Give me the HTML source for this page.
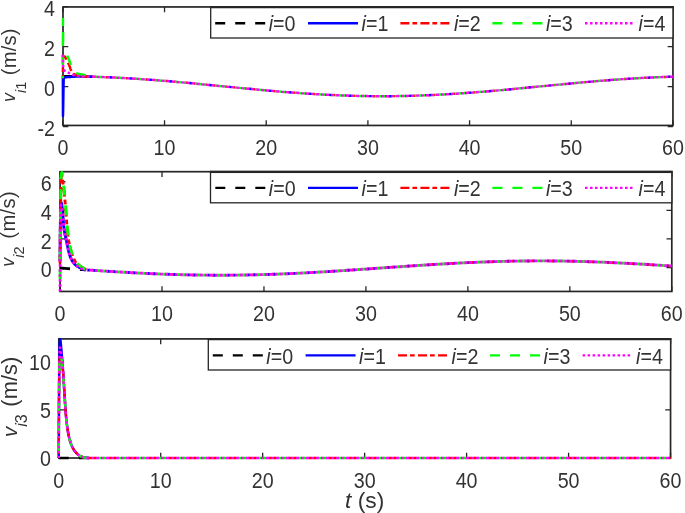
<!DOCTYPE html>
<html><head><meta charset="utf-8"><style>
html,body{margin:0;padding:0;background:#fff;overflow:hidden;}
svg{display:block;will-change:transform;}
text{font-family:"Liberation Sans",sans-serif;fill:#333333;}
</style></head><body>
<svg width="685" height="513" viewBox="0 0 685 513">
<rect x="0" y="0" width="685" height="513" fill="#fff"/>
<rect x="63.00" y="6.95" width="609.95" height="118.50" fill="none" stroke="#262626" stroke-width="1.7"/>
<path d="M62.85 6.95v5.3M62.85 125.45v-5.3M164.53 6.95v5.3M164.53 125.45v-5.3M266.21 6.95v5.3M266.21 125.45v-5.3M367.89 6.95v5.3M367.89 125.45v-5.3M469.57 6.95v5.3M469.57 125.45v-5.3M571.25 6.95v5.3M571.25 125.45v-5.3M672.93 6.95v5.3M672.93 125.45v-5.3M63.00 126.67h5.3M672.95 126.67h-5.3M63.00 86.67h5.3M672.95 86.67h-5.3M63.00 46.67h5.3M672.95 46.67h-5.3M63.00 6.67h5.3M672.95 6.67h-5.3" stroke="#262626" stroke-width="1.3" fill="none"/>
<clipPath id="c0"><rect x="60.00" y="4.95" width="614.95" height="122.50"/></clipPath>
<g clip-path="url(#c0)" fill="none" stroke-width="2.45" stroke-linejoin="round">
<path d="M62.85 76.30L65.39 76.30L67.93 76.31L70.48 76.33L73.02 76.35L75.56 76.38L78.10 76.41L80.64 76.45L83.19 76.50L85.73 76.55L88.27 76.61L90.81 76.67L93.35 76.74" stroke="#000000" stroke-dasharray="10 10"/>
<path d="M62.85 78.29L62.95 116.10L63.02 115.34L63.19 108.28L63.36 97.15L63.53 86.03L63.70 79.02L63.77 78.29L63.88 78.05L64.05 77.76L64.22 77.58L64.38 77.49L64.39 77.49L64.56 77.45L64.73 77.41L64.90 77.38L65.07 77.35L65.24 77.32L65.41 77.29L65.58 77.27L65.76 77.25L65.93 77.23L66.10 77.22L66.27 77.21L66.44 77.19L66.61 77.18L66.78 77.17L66.95 77.16L67.12 77.15L67.29 77.14L67.46 77.13L67.63 77.12L67.81 77.11L67.93 77.10L67.98 77.09L68.15 77.08L68.32 77.07L68.49 77.05L68.66 77.04L68.83 77.03L69.00 77.02L69.17 77.01L69.34 77.00L69.51 76.99L69.69 76.98L69.86 76.97L70.03 76.96L70.20 76.95L70.37 76.94L70.54 76.93L70.71 76.92L70.88 76.92L71.05 76.91L71.22 76.90L71.39 76.89L71.57 76.88L71.74 76.87L71.91 76.86L72.08 76.85L72.25 76.84L72.42 76.83L72.59 76.82L72.76 76.81L72.93 76.80L73.02 76.80L73.10 76.79L73.27 76.78L73.45 76.77L73.62 76.75L73.79 76.74L73.96 76.72L74.13 76.71L74.30 76.69L74.47 76.68L74.64 76.66L74.81 76.64L74.98 76.63L75.15 76.61L75.33 76.60L75.50 76.58L75.67 76.57L75.84 76.56L76.01 76.55L76.18 76.54L76.35 76.53L76.52 76.52L76.69 76.51L76.86 76.50L77.03 76.50L77.09 76.50L77.20 76.50L77.38 76.49L77.55 76.49L77.72 76.49L77.89 76.49L78.06 76.49L78.23 76.48L78.40 76.48L78.57 76.48L78.74 76.48L78.91 76.48L79.08 76.48L79.26 76.48L79.43 76.47L79.60 76.47L79.77 76.47L79.94 76.47L80.11 76.47L80.28 76.47L80.45 76.47L80.62 76.47L80.79 76.47L80.96 76.47L81.14 76.47L81.31 76.47L81.48 76.48L81.65 76.48L81.82 76.48L81.99 76.48L82.16 76.48L82.33 76.48L82.50 76.49L82.67 76.49L82.84 76.49L83.02 76.50L83.19 76.50L85.73 76.55L88.27 76.61L90.81 76.67L93.35 76.74" stroke="#0000ff"/>
<path d="M62.85 78.29L62.97 54.01L63.04 54.02L63.23 54.18L63.41 54.44L63.60 54.72L63.66 54.81L63.79 54.98L63.98 55.24L64.17 55.51L64.35 55.80L64.54 56.09L64.73 56.39L64.92 56.70L65.11 57.02L65.29 57.35L65.48 57.68L65.67 58.02L65.86 58.37L66.05 58.71L66.23 59.07L66.42 59.43L66.61 59.79L66.80 60.15L66.92 60.38L66.99 60.51L67.17 60.89L67.36 61.27L67.55 61.66L67.74 62.06L67.93 62.46L68.11 62.88L68.30 63.30L68.49 63.72L68.68 64.16L68.87 64.59L69.05 65.03L69.24 65.48L69.36 65.75L69.43 65.93L69.62 66.41L69.81 66.93L69.99 67.47L70.18 68.01L70.37 68.55L70.56 69.08L70.75 69.57L70.93 70.02L71.12 70.42L71.29 70.73L71.31 70.76L71.50 71.06L71.69 71.35L71.87 71.63L72.06 71.90L72.25 72.16L72.44 72.41L72.62 72.64L72.81 72.86L73.00 73.08L73.19 73.27L73.38 73.46L73.56 73.63L73.75 73.78L73.94 73.92L74.13 74.05L74.24 74.11L74.32 74.16L74.50 74.26L74.69 74.36L74.88 74.46L75.07 74.56L75.26 74.65L75.44 74.74L75.63 74.83L75.82 74.91L76.01 75.00L76.20 75.07L76.38 75.15L76.57 75.22L76.76 75.29L76.95 75.36L77.14 75.42L77.32 75.48L77.51 75.54L77.70 75.59L77.89 75.64L78.08 75.69L78.26 75.74L78.45 75.78L78.64 75.82L78.83 75.85L79.02 75.89L79.12 75.90L79.20 75.92L79.39 75.94L79.58 75.97L79.77 76.00L79.96 76.03L80.14 76.06L80.33 76.09L80.52 76.11L80.71 76.14L80.90 76.17L81.08 76.19L81.27 76.22L81.46 76.24L81.65 76.26L81.84 76.29L82.02 76.31L82.21 76.33L82.40 76.35L82.59 76.37L82.78 76.39L82.96 76.41L83.15 76.42L83.34 76.44L83.53 76.45L83.72 76.47L83.90 76.48L84.09 76.49L84.28 76.50L84.47 76.51L84.66 76.52L84.84 76.53L85.03 76.54L85.22 76.54L85.73 76.55L88.27 76.61L90.81 76.67L93.35 76.74" stroke="#ff0000" stroke-dasharray="9 3 4.7 3.3" stroke-dashoffset="5.66"/>
<path d="M62.85 78.29L62.97 18.99L63.11 39.66L63.16 44.46L63.36 46.51" stroke="#00ff00" stroke-dasharray="10 10" stroke-dashoffset="7.75"/>
<path d="M63.36 46.51L63.62 47.74L63.87 48.44L63.88 48.47L64.13 49.16L64.39 49.72L64.64 50.17L64.90 50.59L65.16 51.01L65.41 51.48L65.45 51.56L65.67 52.03L65.93 52.58L66.18 53.15L66.44 53.72L66.70 54.31L66.95 54.90L67.21 55.50L67.46 56.11L67.72 56.71L67.98 57.33L68.23 57.94L68.49 58.56L68.75 59.17L69.00 59.79L69.26 60.40L69.36 60.64L69.51 61.02L69.77 61.69L70.03 62.39L70.28 63.11L70.54 63.86L70.80 64.62L71.05 65.39L71.31 66.15L71.57 66.89L71.82 67.61L72.08 68.30L72.33 68.95L72.59 69.55L72.85 70.09L73.10 70.57L73.36 70.97L73.62 71.29L73.76 71.42L73.87 71.52L74.13 71.73L74.39 71.92L74.64 72.11L74.90 72.28L75.15 72.45L75.41 72.60L75.67 72.74L75.92 72.88L76.18 73.00L76.44 73.12L76.69 73.23L76.95 73.33L77.20 73.43L77.46 73.52L77.72 73.60L77.97 73.68L78.10 73.71L78.23 73.75L78.49 73.82L78.74 73.88L79.00 73.94L79.26 74.00L79.51 74.06L79.77 74.11L80.02 74.16L80.28 74.21L80.54 74.26L80.79 74.30L81.05 74.35L81.31 74.39L81.56 74.43L81.82 74.47L82.08 74.52L82.33 74.56L82.59 74.60L82.84 74.64L83.10 74.69L83.36 74.73L83.61 74.78L83.87 74.83L83.97 74.85L84.13 74.88L84.38 74.93L84.64 74.98L84.89 75.03L85.15 75.08L85.41 75.13L85.66 75.18L85.92 75.23L86.18 75.28L86.43 75.34L86.69 75.39L86.95 75.44L87.20 75.49L87.46 75.54L87.71 75.59L87.97 75.64L88.23 75.70L88.48 75.75L88.74 75.80L89.00 75.85L89.25 75.90L89.51 75.96L89.77 76.01L90.02 76.06L90.28 76.11L90.53 76.16L90.79 76.22L91.05 76.27L91.30 76.32L91.56 76.37L91.82 76.43L92.07 76.48L92.33 76.53L92.58 76.59L92.84 76.64L93.10 76.69L93.35 76.74" stroke="#00ff00" stroke-dasharray="10 10" stroke-dashoffset="10.03"/>
<path d="M62.85 54.81L63.02 61.39L63.05 62.37L63.19 66.39L63.36 69.14L63.36 69.14L63.53 69.44L63.70 69.71L63.88 69.95L64.05 70.17L64.22 70.36L64.39 70.53L64.56 70.67L64.73 70.80L64.90 70.91L65.07 71.01L65.24 71.09L65.41 71.17L65.58 71.24L65.76 71.30L65.93 71.35L66.10 71.41L66.27 71.46L66.44 71.52L66.61 71.58L66.78 71.65L66.95 71.72L67.12 71.81L67.29 71.90L67.32 71.92L67.46 72.01L67.63 72.12L67.81 72.23L67.98 72.34L68.15 72.45L68.32 72.56L68.49 72.67L68.66 72.78L68.83 72.90L69.00 73.01L69.17 73.12L69.34 73.22L69.51 73.33L69.69 73.44L69.86 73.54L70.03 73.64L70.20 73.74L70.37 73.84L70.54 73.94L70.71 74.03L70.88 74.12L71.05 74.20L71.22 74.29L71.39 74.36L71.57 74.44L71.74 74.51L71.91 74.57L72.08 74.63L72.25 74.69L72.31 74.71L72.42 74.74L72.59 74.79L72.76 74.84L72.93 74.89L73.10 74.93L73.27 74.98L73.45 75.02L73.62 75.07L73.79 75.11L73.96 75.15L74.13 75.19L74.30 75.23L74.47 75.26L74.64 75.30L74.81 75.34L74.98 75.37L75.15 75.41L75.33 75.44L75.50 75.47L75.67 75.51L75.84 75.54L76.01 75.57L76.18 75.60L76.35 75.63L76.52 75.66L76.69 75.68L76.86 75.71L77.03 75.74L77.20 75.77L77.38 75.79L77.55 75.82L77.72 75.85L77.89 75.87L78.06 75.90L78.10 75.90L78.23 75.92L78.40 75.95L78.57 75.97L78.74 75.99L78.91 76.02L79.08 76.04L79.26 76.07L79.43 76.09L79.60 76.11L79.77 76.13L79.94 76.16L80.11 76.18L80.28 76.20L80.45 76.22L80.62 76.24L80.79 76.26L80.96 76.28L81.14 76.30L81.31 76.32L81.48 76.34L81.65 76.36L81.82 76.38L81.99 76.39L82.16 76.41L82.33 76.43L82.50 76.44L82.67 76.46L82.84 76.47L83.02 76.49L83.19 76.50L85.73 76.55L88.27 76.61L90.81 76.67L93.35 76.74" stroke="#ff00ff" stroke-dasharray="2.5 2.5" stroke-dashoffset="0.07"/>
<path d="M109.38 77.32L109.62 77.33L112.18 77.45M129.36 78.35L129.45 78.36L132.15 78.52M149.31 79.69L149.79 79.72L152.10 79.89M169.25 81.27L169.61 81.30L172.04 81.51M189.17 83.04L189.44 83.07L191.96 83.30M209.08 84.93L209.27 84.95L211.87 85.20M228.99 86.88L229.10 86.89L231.77 87.15M248.89 88.80L248.92 88.80L251.68 89.06M268.81 90.62L269.26 90.66L271.60 90.86M288.74 92.28L289.09 92.30L291.53 92.49M308.69 93.71L308.92 93.72L311.48 93.88M328.66 94.85L328.74 94.85L331.45 94.98M348.64 95.66L349.08 95.67L351.44 95.75M368.64 96.11L368.91 96.11L371.44 96.14M388.63 96.18L388.73 96.18L391.43 96.16M408.63 95.87L409.07 95.86L411.43 95.79M428.62 95.18L428.90 95.17L431.42 95.06M448.59 94.16L448.73 94.15L451.39 93.99M468.55 92.83L468.55 92.83L471.34 92.62M488.49 91.25L488.89 91.21L491.28 91.01M508.41 89.48L508.72 89.45L511.20 89.22M528.32 87.59L528.54 87.56L531.11 87.31M548.22 85.64L548.37 85.63L551.01 85.37M568.13 83.72L568.20 83.72L570.92 83.46M588.05 81.90L588.54 81.85L590.84 81.65M607.98 80.24L608.36 80.21L610.77 80.02M627.93 78.81L628.19 78.79L630.72 78.63M647.89 77.66L648.02 77.66L650.69 77.53M667.88 76.85L668.35 76.83L670.68 76.76" stroke="#0000ff"/>
<path d="M94.29 76.77L94.37 76.77L95.93 76.82M105.53 77.16L105.56 77.16L107.19 77.23M109.28 77.32L109.62 77.33L109.78 77.34M114.28 77.55L114.71 77.57L115.92 77.62M125.50 78.13L125.89 78.15L127.16 78.22M129.26 78.35L129.45 78.36L129.76 78.38M134.25 78.65L134.53 78.67L135.88 78.76M145.46 79.41L145.72 79.43L147.12 79.53M149.21 79.68L149.28 79.68L149.71 79.72M154.20 80.05L154.36 80.06L155.83 80.18M165.40 80.95L165.55 80.96L167.06 81.08M169.15 81.26L169.61 81.30L169.65 81.30M174.13 81.69L174.19 81.69L175.77 81.83M185.33 82.69L185.37 82.69L186.98 82.84M189.07 83.03L189.44 83.07L189.57 83.08M194.05 83.50L194.53 83.54L195.68 83.65M205.24 84.56L205.71 84.61L206.89 84.72M208.98 84.92L209.27 84.95L209.48 84.97M213.96 85.41L214.35 85.45L215.59 85.57M225.14 86.50L225.54 86.54L226.80 86.66M228.89 86.87L229.10 86.89L229.38 86.92M233.86 87.35L234.18 87.38L235.50 87.51M245.05 88.43L245.37 88.46L246.70 88.59M248.79 88.79L248.92 88.80L249.29 88.84M253.77 89.26L254.01 89.28L255.41 89.41M264.97 90.28L265.19 90.30L266.62 90.43M268.71 90.61L268.75 90.62L269.21 90.66M273.69 91.04L273.84 91.06L275.33 91.18M284.89 91.97L285.02 91.98L286.55 92.11M288.64 92.27L289.09 92.30L289.14 92.31M293.63 92.65L293.66 92.65L295.26 92.77M304.84 93.45L304.85 93.45L306.50 93.56M308.59 93.70L308.92 93.72L309.09 93.73M313.58 94.01L314.00 94.04L315.22 94.11M324.80 94.65L325.18 94.67L326.46 94.74M328.56 94.84L328.74 94.85L329.06 94.87M333.55 95.08L333.83 95.09L335.19 95.15M344.78 95.53L345.01 95.54L346.44 95.59M348.54 95.66L348.57 95.66L349.04 95.67M353.54 95.80L353.65 95.81L355.18 95.85M364.78 96.05L364.84 96.05L366.44 96.08M368.54 96.11L368.91 96.11L369.04 96.12M373.54 96.16L373.99 96.17L375.18 96.18M384.77 96.20L385.18 96.20L386.43 96.19M388.53 96.18L388.73 96.18L389.03 96.18M393.53 96.14L393.82 96.14L395.17 96.12M404.77 95.96L405.00 95.95L406.43 95.92M408.53 95.87L408.56 95.87L409.03 95.86M413.53 95.73L413.65 95.73L415.17 95.68M424.76 95.34L424.83 95.34L426.42 95.28M428.52 95.19L428.90 95.17L429.02 95.17M433.52 94.96L433.98 94.94L435.15 94.89M444.74 94.38L445.17 94.36L446.40 94.29M448.49 94.16L448.73 94.15L448.99 94.13M453.48 93.86L453.81 93.84L455.12 93.75M464.70 93.11L464.99 93.09L466.36 92.99M468.45 92.84L468.55 92.83L468.95 92.80M473.44 92.46L473.64 92.45L475.07 92.34M484.64 91.57L484.82 91.56L486.29 91.43M488.39 91.26L488.89 91.21M493.37 90.83L493.46 90.82L495.00 90.69M504.56 89.83L504.65 89.82L506.22 89.68M508.31 89.49L508.72 89.45L508.81 89.44M513.29 89.02L513.29 89.02L514.92 88.87M524.48 87.96L524.48 87.96L526.13 87.80M528.22 87.60L528.54 87.56L528.72 87.55M533.20 87.11L533.63 87.07L534.83 86.95M544.38 86.02L544.81 85.98L546.03 85.86M548.12 85.65L548.37 85.63L548.62 85.60M553.10 85.17L553.46 85.13L554.73 85.01M564.29 84.09L564.64 84.05L565.94 83.93M568.03 83.73L568.20 83.72L568.53 83.68M573.01 83.26L573.28 83.24L574.64 83.11M584.20 82.24L584.47 82.21L585.86 82.09M587.95 81.91L588.03 81.90L588.45 81.86M592.93 81.47L593.11 81.46L594.56 81.33M604.13 80.54L604.30 80.53L605.79 80.41M607.88 80.25L608.36 80.21L608.38 80.21M612.86 79.86L612.94 79.86L614.50 79.74M624.08 79.06L624.12 79.06L625.73 78.95M627.83 78.81L628.19 78.79L628.33 78.78M632.82 78.50L633.27 78.47L634.45 78.40M644.04 77.86L644.46 77.84L645.70 77.77M647.79 77.67L648.02 77.66L648.29 77.64M652.79 77.43L653.10 77.42L654.43 77.36M664.02 76.98L664.29 76.97L665.68 76.92M667.78 76.85L667.85 76.85L668.28 76.83" stroke="#ff0000"/>
<path d="M95.53 76.81L95.90 76.82L97.19 76.86M99.29 76.93L99.45 76.94L102.19 77.04M104.29 77.11L104.54 77.12L105.93 77.18M115.52 77.61L115.72 77.62L117.17 77.69M119.27 77.79L119.28 77.79L122.17 77.95M124.27 78.06L124.37 78.07L125.90 78.15M135.48 78.73L135.55 78.74L137.14 78.84M139.24 78.98L139.62 79.00L142.13 79.17M144.23 79.32L144.70 79.35L145.86 79.44M155.43 80.15L155.89 80.18L157.09 80.28M159.18 80.44L159.45 80.46L162.07 80.67M164.17 80.84L164.53 80.87L165.80 80.98M175.37 81.80L175.71 81.83L177.02 81.94M179.11 82.13L179.27 82.14L182.00 82.38M184.09 82.57L184.36 82.60L185.73 82.72M195.28 83.61L195.54 83.64L196.94 83.77M199.03 83.97L199.10 83.97L201.91 84.24M204.00 84.44L204.19 84.46L205.64 84.60M215.19 85.53L215.37 85.55L216.84 85.69M218.93 85.89L219.44 85.94L221.82 86.18M223.91 86.38L224.01 86.39L225.54 86.54M235.10 87.47L235.20 87.48L236.75 87.63M238.84 87.84L239.26 87.88L241.73 88.11M243.82 88.31L243.84 88.32L245.45 88.47M255.01 89.37L255.03 89.37L256.66 89.52M258.75 89.72L259.09 89.75L261.64 89.98M263.73 90.17L264.18 90.21L265.36 90.32M274.93 91.15L275.36 91.19L276.58 91.29M278.67 91.47L278.92 91.49L281.56 91.70M283.66 91.87L284.00 91.90L285.29 92.01M294.86 92.74L295.19 92.77L296.52 92.87M298.61 93.02L298.75 93.03L301.51 93.22M303.60 93.37L303.83 93.38L305.24 93.48M314.82 94.09L315.02 94.10L316.48 94.19M318.57 94.31L318.58 94.31L321.47 94.47M323.56 94.59L323.66 94.59L325.20 94.67M334.79 95.13L334.84 95.14L336.45 95.21M338.55 95.29L338.91 95.31L341.45 95.41M343.54 95.49L344.00 95.50L345.18 95.54M354.78 95.84L355.18 95.85L356.44 95.88M358.54 95.93L358.74 95.93L361.44 95.99M363.54 96.03L363.82 96.04L365.18 96.06M374.78 96.17L375.01 96.17L376.43 96.18M378.53 96.19L378.57 96.19L381.43 96.20M383.53 96.20L383.65 96.20L385.17 96.20M394.77 96.13L394.84 96.12L396.43 96.10M398.53 96.07L398.90 96.07L401.43 96.02M403.53 95.98L403.99 95.97L405.17 95.95M414.77 95.70L415.17 95.68L416.43 95.64M418.53 95.57L418.73 95.57L421.43 95.47M423.52 95.39L423.81 95.38L425.16 95.33M434.75 94.90L435.00 94.89L436.41 94.82M438.51 94.72L438.56 94.71L441.41 94.57M443.50 94.45L443.64 94.44L445.14 94.36M454.72 93.78L454.83 93.77L456.38 93.67M458.47 93.54L458.89 93.51L461.37 93.34M463.46 93.19L463.47 93.19L465.10 93.08M474.67 92.37L475.16 92.33L476.33 92.24M478.42 92.07L478.72 92.05L481.31 91.84M483.40 91.67L483.81 91.64L485.04 91.54M494.60 90.72L494.99 90.69L496.26 90.58M498.35 90.39L498.55 90.37L501.24 90.13M503.33 89.94L503.63 89.92L504.96 89.80M514.52 88.91L514.82 88.88L516.17 88.75M518.26 88.55L518.38 88.54L521.15 88.28M523.24 88.08L523.46 88.05L524.87 87.92M534.43 86.99L534.65 86.97L536.08 86.83M538.17 86.63L538.20 86.62L541.06 86.34M543.15 86.14L543.29 86.12L544.78 85.98M554.33 85.05L554.47 85.03L555.99 84.89M558.08 84.68L558.54 84.64L560.96 84.41M563.05 84.20L563.12 84.20L564.69 84.05M574.24 83.15L574.30 83.14L575.90 82.99M577.99 82.80L578.37 82.77L580.88 82.54M582.97 82.35L583.45 82.31L584.60 82.20M594.16 81.37L594.64 81.33L595.82 81.23M597.91 81.05L598.20 81.03L600.80 80.81M602.89 80.64L603.28 80.61L604.53 80.51M614.10 79.77L614.46 79.74L615.76 79.65M617.85 79.50L618.02 79.49L620.74 79.29M622.84 79.15L623.11 79.13L624.47 79.04M634.06 78.42L634.29 78.41L635.71 78.32M637.81 78.20L637.85 78.20L640.70 78.04M642.80 77.92L642.93 77.92L644.44 77.84M654.03 77.37L654.12 77.37L655.69 77.30M657.78 77.21L658.19 77.20L660.68 77.10M662.78 77.02L663.27 77.00L664.42 76.96" stroke="#00ff00"/>
<path d="M93.35 76.74L93.86 76.76L94.69 76.78M96.79 76.85L96.91 76.85L99.69 76.95M101.79 77.02L102.00 77.03L104.69 77.13M106.79 77.21L107.08 77.23L109.68 77.34M111.78 77.43L112.16 77.45L114.68 77.56M116.78 77.67L117.25 77.69L119.67 77.81M121.77 77.92L121.82 77.93L124.66 78.08M126.76 78.20L126.91 78.21L129.66 78.37M131.75 78.50L131.99 78.51L134.65 78.68M136.74 78.81L137.08 78.84L139.64 79.00M141.73 79.15L142.16 79.18L144.62 79.35M146.72 79.50L146.74 79.50L149.61 79.71M151.71 79.86L151.82 79.87L154.60 80.08M156.69 80.25L156.90 80.26L159.58 80.47M161.68 80.64L161.99 80.67L164.57 80.88M166.66 81.05L167.07 81.08L169.55 81.29M171.64 81.47L171.65 81.47L174.53 81.72M176.62 81.91L176.73 81.91L179.51 82.16M181.60 82.35L181.82 82.37L184.49 82.61M186.58 82.80L186.90 82.83L189.47 83.07M191.56 83.26L191.98 83.30L194.45 83.53M196.54 83.73L196.56 83.73L199.43 84.00M201.52 84.20L201.64 84.22L204.40 84.48M206.49 84.68L206.73 84.71L209.38 84.96M211.47 85.17L211.81 85.20L214.36 85.45M216.45 85.65L216.90 85.70L219.33 85.93M221.42 86.14L221.47 86.14L224.31 86.42M226.40 86.62L226.55 86.64L229.28 86.91M231.37 87.11L231.64 87.14L234.26 87.39M236.35 87.59L236.72 87.63L239.24 87.87M241.33 88.08L241.81 88.12L244.21 88.35M246.31 88.55L246.38 88.56L249.19 88.83M251.28 89.02L251.47 89.04L254.17 89.29M256.26 89.49L256.55 89.51L259.15 89.75M261.24 89.94L261.63 89.98L264.13 90.20M266.22 90.39L266.72 90.44L269.11 90.65M271.20 90.83L271.29 90.84L274.09 91.08M276.18 91.26L276.38 91.27L279.07 91.50M281.17 91.67L281.46 91.70L284.06 91.91M286.15 92.07L286.55 92.11L289.04 92.30M291.13 92.46L291.63 92.50L294.03 92.68M296.12 92.84L296.21 92.84L299.01 93.05M301.11 93.19L301.29 93.21L304.00 93.39M306.10 93.53L306.37 93.55L308.99 93.72M311.09 93.86L311.46 93.88L313.98 94.04M316.08 94.16L316.54 94.19L318.97 94.33M321.07 94.45L321.12 94.45L323.96 94.61M326.06 94.72L326.20 94.72L328.96 94.86M331.05 94.96L331.29 94.97L333.95 95.10M336.05 95.19L336.37 95.20L338.95 95.31M341.05 95.39L341.45 95.41L343.94 95.50M346.04 95.57L346.54 95.59L348.94 95.67M351.04 95.73L351.11 95.74L353.94 95.82M356.04 95.87L356.20 95.87L358.94 95.94M361.04 95.98L361.28 95.99L363.94 96.04M366.04 96.07L366.36 96.08L368.94 96.11M371.04 96.14L371.45 96.14L373.94 96.17M376.03 96.18L376.53 96.18L378.93 96.19M381.03 96.20L381.11 96.20L383.93 96.20M386.03 96.19L386.19 96.19L388.93 96.18M391.03 96.16L391.28 96.16L393.93 96.13M396.03 96.11L396.36 96.10L398.93 96.07M401.03 96.03L401.44 96.02L403.93 95.98M406.03 95.93L406.53 95.92L408.93 95.86M411.03 95.81L411.10 95.80L413.93 95.72M416.03 95.66L416.19 95.65L418.93 95.56M421.03 95.49L421.27 95.48L423.92 95.38M426.02 95.29L426.36 95.28L428.92 95.17M431.02 95.08L431.44 95.06L433.91 94.94M436.01 94.84L436.02 94.84L438.91 94.70M441.01 94.59L441.10 94.58L443.90 94.43M446.00 94.31L446.18 94.30L448.89 94.14M450.99 94.01L451.27 94.00L453.88 93.83M455.98 93.70L456.35 93.68L458.87 93.51M460.97 93.37L461.44 93.33L463.86 93.17M465.96 93.02L466.01 93.01L468.85 92.81M470.94 92.65L471.10 92.64L473.83 92.43M475.93 92.27L476.18 92.25L478.82 92.04M480.91 91.88L481.26 91.85L483.80 91.64M485.90 91.47L486.35 91.43L488.79 91.22M490.88 91.04L490.92 91.04L493.77 90.80M495.86 90.61L496.01 90.60L498.75 90.36M500.84 90.17L501.09 90.15L503.73 89.91M505.82 89.72L506.17 89.68L508.71 89.45M510.80 89.26L511.26 89.21L513.69 88.99M515.78 88.79L515.83 88.78L518.66 88.51M520.75 88.31L520.92 88.30L523.64 88.04M525.73 87.84L526.00 87.81L528.62 87.56M530.71 87.35L531.09 87.32L533.59 87.07M535.68 86.87L536.17 86.82L538.57 86.59M540.66 86.38L540.75 86.37L543.55 86.10M545.64 85.89L545.83 85.88L548.52 85.61M550.61 85.41L550.91 85.38L553.50 85.13M555.59 84.92L556.00 84.89L558.48 84.65M560.57 84.44L560.57 84.44L563.45 84.17M565.54 83.97L565.66 83.96L568.43 83.69M570.52 83.50L570.74 83.48L573.41 83.23M575.50 83.03L575.83 83.00L578.39 82.77M580.48 82.57L580.91 82.54L583.37 82.31M585.46 82.13L585.49 82.12L588.35 81.87M590.44 81.69L590.57 81.68L593.33 81.44M595.42 81.26L595.65 81.24L598.31 81.02M600.40 80.84L600.74 80.82L603.29 80.61M605.39 80.44L605.82 80.41L608.28 80.21M610.37 80.05L610.40 80.05L613.26 79.83M615.36 79.68L615.48 79.67L618.25 79.47M620.34 79.32L620.56 79.30L623.24 79.12M625.33 78.98L625.65 78.96L628.23 78.79M630.32 78.65L630.73 78.63L633.22 78.47M635.31 78.35L635.82 78.32L638.21 78.18M640.30 78.06L640.39 78.06L643.20 77.90M645.30 77.79L645.48 77.78L648.19 77.65M650.29 77.55L650.56 77.53L653.19 77.41M655.29 77.32L655.64 77.30L658.18 77.20M660.28 77.12L660.73 77.10L663.18 77.01M665.28 76.93L665.30 76.93L668.18 76.84M670.28 76.77L670.39 76.77L672.93 76.70" stroke="#ff00ff"/>
</g>
<text transform="translate(62.85 154.80) scale(1 1.100)" font-size="19.70" text-anchor="middle">0</text>
<text transform="translate(164.53 154.80) scale(1 1.100)" font-size="19.70" text-anchor="middle">10</text>
<text transform="translate(266.21 154.80) scale(1 1.100)" font-size="19.70" text-anchor="middle">20</text>
<text transform="translate(367.89 154.80) scale(1 1.100)" font-size="19.70" text-anchor="middle">30</text>
<text transform="translate(469.57 154.80) scale(1 1.100)" font-size="19.70" text-anchor="middle">40</text>
<text transform="translate(571.25 154.80) scale(1 1.100)" font-size="19.70" text-anchor="middle">50</text>
<text transform="translate(672.93 154.80) scale(1 1.100)" font-size="19.70" text-anchor="middle">60</text>
<text transform="translate(54.90 135.52) scale(1 1.100)" font-size="19.70" text-anchor="end">-2</text>
<text transform="translate(54.90 95.52) scale(1 1.100)" font-size="19.70" text-anchor="end">0</text>
<text transform="translate(54.90 55.52) scale(1 1.100)" font-size="19.70" text-anchor="end">2</text>
<text transform="translate(54.90 15.52) scale(1 1.100)" font-size="19.70" text-anchor="end">4</text>
<text transform="translate(16.00 102.00) rotate(-90)" font-size="20.20"><tspan font-style="italic" font-size="18.00" dy="-0.70">v</tspan><tspan font-size="14.50" dy="10.30"><tspan font-style="italic">i</tspan>1</tspan><tspan dy="-9.60" dx="0.60" letter-spacing="0.20"> (m/s)</tspan></text>
<rect x="210.70" y="7.60" width="462.25" height="30.40" fill="#fff" stroke="#262626" stroke-width="1.3"/>
<path d="M215.20 23.30h50" stroke="#000000" stroke-width="2.40" stroke-dasharray="10 10" fill="none"/>
<text transform="translate(268.70 31.45) scale(1 1.100)" font-size="19.70"><tspan font-style="italic">i</tspan>=0</text>
<path d="M308.00 23.30h50" stroke="#0000ff" stroke-width="2.40" fill="none"/>
<text transform="translate(361.50 31.45) scale(1 1.100)" font-size="19.70"><tspan font-style="italic">i</tspan>=1</text>
<path d="M400.40 23.30h50" stroke="#ff0000" stroke-width="2.40" stroke-dasharray="9 3 4.7 3.3" fill="none"/>
<text transform="translate(453.90 31.45) scale(1 1.100)" font-size="19.70"><tspan font-style="italic">i</tspan>=2</text>
<path d="M492.40 23.30h50" stroke="#00ff00" stroke-width="2.40" stroke-dasharray="10 10" fill="none"/>
<text transform="translate(545.90 31.45) scale(1 1.100)" font-size="19.70"><tspan font-style="italic">i</tspan>=3</text>
<path d="M585.00 23.30h50" stroke="#ff00ff" stroke-width="2.40" stroke-dasharray="2.5 2.5" fill="none"/>
<text transform="translate(638.50 31.45) scale(1 1.100)" font-size="19.70"><tspan font-style="italic">i</tspan>=4</text>
<path d="M210.05 6.95H673.80" stroke="#262626" stroke-width="1.7"/>
<rect x="60.10" y="171.70" width="611.70" height="119.75" fill="none" stroke="#262626" stroke-width="1.7"/>
<path d="M60.04 171.70v5.3M60.04 291.45v-5.3M162.00 171.70v5.3M162.00 291.45v-5.3M263.96 171.70v5.3M263.96 291.45v-5.3M365.92 171.70v5.3M365.92 291.45v-5.3M467.88 171.70v5.3M467.88 291.45v-5.3M569.84 171.70v5.3M569.84 291.45v-5.3M671.80 171.70v5.3M671.80 291.45v-5.3M60.10 267.56h5.3M671.80 267.56h-5.3M60.10 238.96h5.3M671.80 238.96h-5.3M60.10 210.36h5.3M671.80 210.36h-5.3M60.10 181.76h5.3M671.80 181.76h-5.3" stroke="#262626" stroke-width="1.3" fill="none"/>
<clipPath id="c1"><rect x="57.10" y="169.70" width="616.70" height="123.75"/></clipPath>
<g clip-path="url(#c1)" fill="none" stroke-width="2.90" stroke-linejoin="round">
<path d="M60.04 268.05L62.59 268.23L65.14 268.41L67.69 268.59L70.24 268.76L72.78 268.94L75.33 269.12L77.88 269.29L80.43 269.47L82.98 269.65L85.53 269.82" stroke="#000000" stroke-dasharray="10 10"/>
<path d="M60.04 260.90L60.25 234.03L60.35 225.15L60.45 218.15L60.66 206.80L60.86 202.27L60.86 202.27L61.07 202.44L61.27 202.86L61.48 203.43L61.57 203.70L61.69 204.17L61.89 205.47L62.10 207.18L62.30 209.11L62.49 210.85L62.51 211.04L62.71 213.19L62.92 215.67L63.12 218.33L63.33 221.04L63.54 223.64L63.74 225.97L63.95 227.90L64.02 228.44L64.15 229.39L64.36 230.72L64.56 231.95L64.77 233.07L64.98 234.11L65.18 235.09L65.39 236.03L65.59 236.93L65.80 237.82L66.00 238.71L66.21 239.61L66.36 240.31L66.41 240.55L66.62 241.52L66.83 242.50L67.03 243.49L67.24 244.48L67.44 245.47L67.65 246.46L67.85 247.44L68.06 248.40L68.27 249.35L68.47 250.28L68.68 251.17L68.88 252.04L69.09 252.87L69.29 253.65L69.50 254.40L69.70 255.09L69.91 255.72L70.12 256.30L70.24 256.61L70.32 256.82L70.53 257.31L70.73 257.79L70.94 258.26L71.14 258.71L71.35 259.14L71.56 259.56L71.76 259.96L71.97 260.35L72.17 260.72L72.38 261.08L72.58 261.43L72.79 261.76L72.99 262.07L73.20 262.37L73.41 262.66L73.61 262.93L73.82 263.19L74.02 263.44L74.23 263.67L74.31 263.76L74.43 263.89L74.64 264.10L74.85 264.30L75.05 264.49L75.26 264.68L75.46 264.86L75.67 265.03L75.87 265.20L76.08 265.37L76.29 265.52L76.49 265.68L76.70 265.82L76.90 265.97L77.11 266.11L77.31 266.24L77.52 266.37L77.72 266.50L77.93 266.63L78.14 266.75L78.34 266.88L78.39 266.91L78.55 267.00L78.75 267.12L78.96 267.23L79.16 267.35L79.37 267.47L79.58 267.58L79.78 267.70L79.99 267.81L80.19 267.92L80.40 268.03L80.60 268.14L80.81 268.24L81.01 268.35L81.22 268.45L81.43 268.55L81.63 268.65L81.84 268.74L82.04 268.84L82.25 268.93L82.45 269.02L82.66 269.10L82.87 269.19L83.07 269.27L83.28 269.34L83.48 269.42L83.69 269.49L83.89 269.56L84.10 269.63L84.30 269.69L84.51 269.75L85.53 269.82" stroke="#0000ff"/>
<path d="M60.04 263.76L60.26 236.21L60.45 218.00L60.49 214.87L60.71 196.50L60.93 182.80L61.06 179.39L61.15 178.54L61.38 176.96L61.60 176.04L61.77 175.82L61.82 175.84L62.04 176.44L62.27 177.64L62.49 179.22L62.71 180.93L62.89 182.25L62.94 182.53L63.16 184.13L63.38 185.83L63.60 187.63L63.83 189.53L64.05 191.51L64.27 193.58L64.50 195.72L64.72 197.94L64.94 200.21L65.14 202.27L65.16 202.54L65.39 205.10L65.61 207.92L65.83 210.94L66.05 214.05L66.28 217.20L66.50 220.28L66.72 223.22L66.95 225.94L67.17 228.35L67.18 228.44L67.39 230.55L67.61 232.66L67.84 234.66L68.06 236.53L68.28 238.22L68.51 239.71L68.60 240.31L68.73 241.01L68.95 242.23L69.17 243.40L69.40 244.52L69.62 245.60L69.84 246.63L70.06 247.61L70.29 248.55L70.51 249.45L70.73 250.30L70.96 251.12L71.18 251.89L71.40 252.63L71.62 253.33L71.85 254.00L72.07 254.63L72.28 255.18L72.29 255.22L72.52 255.80L72.74 256.36L72.96 256.91L73.18 257.44L73.41 257.95L73.63 258.45L73.85 258.93L74.07 259.40L74.30 259.84L74.52 260.27L74.74 260.68L74.97 261.07L75.19 261.44L75.41 261.79L75.63 262.12L75.86 262.43L76.08 262.72L76.30 262.99L76.35 263.04L76.52 263.23L76.75 263.47L76.97 263.69L77.19 263.91L77.42 264.11L77.64 264.31L77.86 264.50L78.08 264.68L78.31 264.85L78.53 265.02L78.75 265.18L78.98 265.34L79.20 265.50L79.42 265.65L79.64 265.80L79.87 265.95L80.09 266.10L80.31 266.25L80.43 266.33L80.53 266.40L80.76 266.55L80.98 266.70L81.20 266.85L81.43 267.00L81.65 267.15L81.87 267.29L82.09 267.43L82.32 267.57L82.54 267.71L82.76 267.85L82.99 267.99L83.21 268.12L83.43 268.26L83.65 268.39L83.88 268.52L84.10 268.64L84.32 268.77L84.54 268.89L84.77 269.01L84.99 269.13L85.21 269.24L85.44 269.36L85.66 269.47L85.88 269.58L86.10 269.68L86.33 269.79L86.55 269.89" stroke="#ff0000" stroke-dasharray="9 3 4.7 3.3" stroke-dashoffset="19.80"/>
<path d="M60.04 288.07L60.26 243.75L60.45 218.00L60.49 214.35L60.71 194.82L60.93 181.45L61.06 177.96L61.15 176.83L61.38 174.63L61.60 173.18L61.82 172.55L61.88 172.53L62.04 172.86L62.27 174.09L62.49 175.88L62.71 177.87L62.89 179.39L62.94 179.71L63.16 181.49L63.38 183.37L63.60 185.34L63.83 187.39L64.05 189.51L64.27 191.69L64.50 193.94L64.72 196.24L64.94 198.59L65.14 200.70L65.16 200.98L65.39 203.53L65.61 206.28L65.83 209.17L66.05 212.14L66.28 215.14L66.50 218.09L66.72 220.96L66.95 223.66L67.17 226.16L67.28 227.30L67.39 228.41L67.61 230.59L67.84 232.69L68.06 234.68L68.28 236.51L68.51 238.16L68.71 239.45L68.73 239.58L68.95 240.86L69.17 242.09L69.40 243.28L69.62 244.41L69.84 245.49L70.06 246.53L70.29 247.52L70.51 248.46L70.73 249.36L70.96 250.21L71.18 251.03L71.40 251.80L71.62 252.54L71.85 253.23L72.07 253.89L72.28 254.46L72.29 254.51L72.52 255.11L72.74 255.69L72.96 256.25L73.18 256.80L73.41 257.33L73.63 257.85L73.85 258.34L74.07 258.82L74.30 259.28L74.52 259.72L74.74 260.14L74.97 260.55L75.19 260.93L75.41 261.29L75.63 261.64L75.86 261.96L76.08 262.27L76.30 262.55L76.35 262.62L76.52 262.82L76.75 263.07L76.97 263.32L77.19 263.55L77.42 263.77L77.64 263.99L77.86 264.19L78.08 264.39L78.31 264.58L78.53 264.76L78.75 264.94L78.98 265.12L79.20 265.29L79.42 265.46L79.64 265.62L79.87 265.78L80.09 265.94L80.31 266.10L80.43 266.19L80.53 266.27L80.76 266.42L80.98 266.58L81.20 266.74L81.43 266.90L81.65 267.05L81.87 267.20L82.09 267.35L82.32 267.50L82.54 267.65L82.76 267.79L82.99 267.94L83.21 268.08L83.43 268.22L83.65 268.35L83.88 268.49L84.10 268.62L84.32 268.75L84.54 268.88L84.77 269.00L84.99 269.12L85.21 269.24L85.44 269.36L85.66 269.47L85.88 269.58L86.10 269.68L86.33 269.79L86.55 269.89" stroke="#00ff00" stroke-dasharray="10 10" stroke-dashoffset="11.18"/>
<path d="M60.04 291.22L60.25 245.70L60.35 232.30L60.45 223.48L60.66 210.15L60.86 205.13L60.86 205.13L61.07 205.31L61.27 205.73L61.48 206.30L61.57 206.56L61.69 206.97L61.89 208.00L62.10 209.33L62.30 210.84L62.49 212.28L62.51 212.44L62.71 214.38L62.92 216.74L63.12 219.35L63.33 222.05L63.54 224.65L63.74 227.00L63.95 228.92L64.02 229.44L64.15 230.36L64.36 231.65L64.56 232.83L64.77 233.91L64.98 234.92L65.18 235.86L65.39 236.76L65.59 237.63L65.80 238.48L66.00 239.34L66.21 240.21L66.36 240.88L66.41 241.12L66.62 242.05L66.83 242.99L67.03 243.94L67.24 244.89L67.44 245.85L67.65 246.80L67.85 247.74L68.06 248.67L68.27 249.58L68.47 250.47L68.68 251.33L68.88 252.16L69.09 252.96L69.29 253.72L69.50 254.44L69.70 255.12L69.91 255.74L70.12 256.31L70.24 256.61L70.32 256.82L70.53 257.31L70.73 257.78L70.94 258.24L71.14 258.69L71.35 259.12L71.56 259.54L71.76 259.95L71.97 260.33L72.17 260.71L72.38 261.07L72.58 261.42L72.79 261.75L72.99 262.07L73.20 262.37L73.41 262.66L73.61 262.93L73.82 263.19L74.02 263.44L74.23 263.67L74.31 263.76L74.43 263.89L74.64 264.10L74.85 264.30L75.05 264.49L75.26 264.68L75.46 264.86L75.67 265.03L75.87 265.20L76.08 265.37L76.29 265.52L76.49 265.68L76.70 265.82L76.90 265.97L77.11 266.11L77.31 266.24L77.52 266.37L77.72 266.50L77.93 266.63L78.14 266.75L78.34 266.88L78.39 266.91L78.55 267.00L78.75 267.12L78.96 267.23L79.16 267.35L79.37 267.47L79.58 267.58L79.78 267.70L79.99 267.81L80.19 267.92L80.40 268.03L80.60 268.14L80.81 268.24L81.01 268.35L81.22 268.45L81.43 268.55L81.63 268.65L81.84 268.74L82.04 268.84L82.25 268.93L82.45 269.02L82.66 269.10L82.87 269.19L83.07 269.27L83.28 269.34L83.48 269.42L83.69 269.49L83.89 269.56L84.10 269.63L84.30 269.69L84.51 269.75L85.53 269.82" stroke="#ff00ff" stroke-dasharray="2.5 2.5" stroke-dashoffset="0.48"/>
<path d="M87.47 269.95L87.57 269.96L89.40 270.08M93.69 270.37L94.20 270.40L95.35 270.48M107.42 271.25L107.45 271.26L109.36 271.38M113.65 271.64L114.08 271.66L115.31 271.74M127.39 272.44L127.84 272.46L129.33 272.54M133.62 272.77L133.96 272.79L135.28 272.86M147.36 273.45L147.73 273.47L149.30 273.54M153.60 273.73L153.84 273.74L155.26 273.80M167.35 274.26L167.61 274.27L169.29 274.33M173.58 274.47L173.73 274.47L175.24 274.52M187.34 274.83L187.49 274.84L189.28 274.87M193.58 274.96L193.61 274.96L195.24 274.99M207.34 275.14L207.37 275.14L209.28 275.16M213.58 275.18L214.00 275.19L215.24 275.19M227.34 275.18L227.76 275.18L229.28 275.17M233.58 275.14L233.88 275.14L235.24 275.12M247.33 274.95L247.65 274.94L249.27 274.91M253.57 274.82L253.76 274.82L255.23 274.78M267.33 274.45L267.53 274.44L269.27 274.39M273.57 274.24L273.65 274.24L275.22 274.18M287.31 273.71L287.41 273.70L289.25 273.62M293.55 273.43L294.04 273.41L295.21 273.35M307.29 272.75L307.29 272.75L309.23 272.64M313.52 272.41L313.92 272.39L315.18 272.32M327.26 271.61L327.68 271.58L329.20 271.49M333.49 271.22L333.80 271.20L335.14 271.12M347.22 270.33L347.57 270.31L349.15 270.20M353.44 269.92L353.68 269.90L355.10 269.80M367.17 268.97L367.45 268.95L369.11 268.84M373.40 268.54L373.57 268.53L375.05 268.42M387.12 267.58L387.33 267.56L389.06 267.44M393.35 267.14L393.45 267.13L395.00 267.03M407.08 266.20L407.21 266.19L409.01 266.07M413.30 265.78L413.33 265.78L414.96 265.67M427.03 264.89L427.10 264.89L428.97 264.77M433.26 264.50L433.72 264.48L434.92 264.40M447.00 263.70L447.49 263.68L448.93 263.60M453.23 263.36L453.61 263.34L454.89 263.28M466.97 262.68L467.37 262.66L468.91 262.59M473.21 262.40L473.49 262.39L474.86 262.33M486.95 261.86L487.25 261.85L488.89 261.80M493.19 261.66L493.37 261.65L494.85 261.61M506.95 261.28L507.13 261.28L508.89 261.24M513.18 261.16L513.25 261.15L514.84 261.13M526.94 260.96L527.02 260.96L528.88 260.95M533.18 260.92L533.64 260.92L534.84 260.91M546.94 260.91L547.41 260.92L548.88 260.92M553.18 260.96L553.53 260.96L554.84 260.97M566.94 261.14L567.29 261.15L568.88 261.17M573.18 261.26L573.41 261.27L574.84 261.30M586.94 261.63L587.17 261.64L588.87 261.69M593.17 261.83L593.29 261.84L594.83 261.89M606.92 262.36L607.06 262.37L608.86 262.45M613.16 262.64L613.17 262.64L614.81 262.72M626.90 263.32L626.94 263.32L628.84 263.42M633.13 263.65L633.56 263.68L634.79 263.74M646.87 264.45L647.33 264.48L648.80 264.57M653.10 264.83L653.45 264.86L654.75 264.94M666.83 265.72L667.21 265.75L668.76 265.85" stroke="#0000ff"/>
<path d="M89.00 270.05L89.10 270.06L90.36 270.15M92.46 270.29L92.67 270.30L94.09 270.39M108.96 271.35L108.98 271.35L110.32 271.43M112.42 271.56L112.55 271.57L114.05 271.66M128.93 272.52L129.37 272.55L130.29 272.60M132.38 272.71L132.43 272.71L134.02 272.79M148.90 273.52L149.25 273.54L150.26 273.58M152.36 273.67L152.82 273.69L154.00 273.75M168.89 274.31L169.14 274.32L170.25 274.36M172.34 274.43L172.71 274.44L173.98 274.48M188.88 274.87L189.02 274.87L190.24 274.89M192.34 274.93L192.59 274.94L193.98 274.96M208.88 275.16L208.90 275.16L210.24 275.17M212.34 275.18L212.47 275.18L213.98 275.19M228.88 275.17L229.29 275.17L230.24 275.17M232.34 275.15L232.35 275.15L233.98 275.13M248.87 274.92L249.18 274.91L250.23 274.89M252.33 274.85L252.74 274.84L253.97 274.81M268.87 274.40L269.06 274.39L270.23 274.36M272.33 274.29L272.63 274.28L273.96 274.23M288.85 273.64L288.94 273.64L290.21 273.58M292.31 273.49L292.51 273.48L293.95 273.41M308.83 272.66L309.33 272.64L310.19 272.59M312.28 272.48L312.39 272.47L313.92 272.39M328.80 271.51L329.21 271.49L330.15 271.43M332.25 271.30L332.27 271.30L333.89 271.20M348.75 270.23L349.10 270.21L350.11 270.14M352.21 270.00L352.67 269.97L353.84 269.89M368.71 268.87L368.98 268.85L370.07 268.77M372.16 268.62L372.55 268.60L373.80 268.51M388.66 267.47L388.86 267.45L390.02 267.37M392.11 267.23L392.43 267.21L393.75 267.11M408.61 266.09L408.74 266.09L409.97 266.00M412.06 265.86L412.31 265.85L413.70 265.75M428.57 264.79L428.63 264.79L429.93 264.71M432.02 264.58L432.19 264.57L433.66 264.48M448.54 263.62L449.02 263.59L449.89 263.54M451.99 263.43L452.08 263.43L453.63 263.34M468.51 262.61L468.90 262.59L469.87 262.55M471.97 262.46L472.47 262.43L473.60 262.39M488.49 261.81L488.78 261.80L489.85 261.76M491.95 261.70L492.35 261.68L493.59 261.64M508.49 261.25L508.66 261.25L509.85 261.22M511.94 261.18L512.23 261.17L513.58 261.15M528.48 260.95L528.55 260.95L529.84 260.94M531.94 260.93L532.11 260.92L533.58 260.92M548.48 260.92L548.94 260.92L549.84 260.93M551.94 260.94L552.00 260.95L553.58 260.96M568.48 261.17L568.82 261.17L569.84 261.19M571.94 261.24L572.39 261.25L573.58 261.27M588.47 261.68L588.70 261.68L589.83 261.72M591.93 261.79L592.27 261.80L593.57 261.85M608.46 262.43L608.58 262.44L609.82 262.49M611.92 262.58L612.15 262.59L613.56 262.66M628.44 263.40L628.47 263.40L629.80 263.47M631.89 263.58L632.04 263.59L633.53 263.67M648.40 264.54L648.86 264.57L649.76 264.63M651.86 264.76L651.92 264.76L653.49 264.86M668.36 265.82L668.74 265.85L669.72 265.91" stroke="#ff0000"/>
<path d="M97.45 270.61L97.77 270.64L100.34 270.80M102.43 270.94L102.86 270.97L105.33 271.12M117.41 271.86L117.65 271.88L120.30 272.03M122.40 272.16L122.75 272.18L125.29 272.32M137.38 272.97L137.53 272.98L140.27 273.11M142.37 273.22L142.63 273.23L145.27 273.35M157.35 273.88L157.41 273.89L160.25 274.00M162.35 274.08L162.51 274.09L165.25 274.19M177.34 274.58L177.80 274.59L180.24 274.66M182.34 274.71L182.39 274.71L185.24 274.78M197.34 275.02L197.69 275.03L200.24 275.06M202.34 275.09L202.78 275.10L205.24 275.12M217.34 275.20L217.57 275.20L220.24 275.20M222.34 275.20L222.67 275.20L225.24 275.19M237.34 275.10L237.45 275.10L240.24 275.06M242.34 275.03L242.55 275.03L245.24 274.99M257.33 274.73L257.84 274.72L260.23 274.66M262.33 274.60L262.43 274.60L265.23 274.51M277.32 274.11L277.72 274.09L280.22 274.00M282.32 273.91L282.82 273.89L285.22 273.79M297.30 273.25L297.61 273.24L300.20 273.11M302.30 273.00L302.70 272.98L305.19 272.86M317.28 272.20L317.49 272.18L320.17 272.03M322.27 271.91L322.59 271.89L325.16 271.73M337.24 270.98L337.37 270.98L340.13 270.80M342.23 270.66L342.47 270.65L345.12 270.47M357.20 269.66L357.25 269.66L360.09 269.46M362.18 269.32L362.35 269.31L365.08 269.12M377.15 268.28L377.65 268.24L380.04 268.07M382.14 267.93L382.23 267.92L385.03 267.72M397.10 266.88L397.53 266.85L399.99 266.68M402.09 266.54L402.12 266.54L404.98 266.34M417.05 265.53L417.41 265.51L419.95 265.34M422.04 265.21L422.51 265.18L424.94 265.02M437.01 264.28L437.29 264.26L439.91 264.11M442.01 263.99L442.39 263.96L444.90 263.82M456.98 263.17L457.17 263.16L459.88 263.02M461.98 262.92L462.27 262.90L464.87 262.78M476.96 262.24L477.06 262.24L479.86 262.13M481.96 262.05L482.15 262.04L484.86 261.94M496.95 261.54L497.45 261.53L499.85 261.46M501.95 261.41L502.04 261.40L504.85 261.33M516.94 261.09L517.33 261.08L519.84 261.05M521.94 261.02L522.43 261.01L524.84 260.98M536.94 260.90L537.21 260.90L539.84 260.90M541.94 260.90L542.31 260.90L544.84 260.91M556.94 260.99L557.09 260.99L559.84 261.03M561.94 261.06L562.19 261.06L564.84 261.10M576.94 261.35L576.98 261.35L579.84 261.43M581.94 261.48L582.08 261.49L584.84 261.56M596.93 261.97L597.37 261.98L599.83 262.08M601.93 262.16L601.96 262.16L604.82 262.28M616.91 262.81L617.25 262.83L619.81 262.96M621.91 263.06L622.35 263.08L624.80 263.21M636.88 263.86L637.13 263.88L639.78 264.03M641.88 264.15L642.23 264.17L644.77 264.32M656.85 265.07L657.02 265.08L659.74 265.26M661.84 265.39L662.11 265.41L664.73 265.58" stroke="#00ff00"/>
<path d="M86.55 269.89L87.06 269.92L87.87 269.98M89.96 270.12L90.12 270.13L92.86 270.31M94.95 270.45L95.22 270.47L97.84 270.64M99.94 270.78L100.31 270.80L102.83 270.96M104.93 271.10L105.41 271.13L107.82 271.28M109.92 271.41L110.00 271.41L112.81 271.59M114.91 271.71L115.10 271.73L117.81 271.89M119.90 272.01L120.20 272.03L122.80 272.18M124.89 272.30L125.29 272.32L127.79 272.46M129.89 272.57L130.39 272.60L132.78 272.73M134.88 272.84L134.98 272.84L137.78 272.99M139.87 273.09L140.08 273.10L142.77 273.24M144.87 273.34L145.18 273.35L147.76 273.47M149.86 273.57L150.27 273.58L152.76 273.69M154.86 273.78L154.86 273.78L157.75 273.90M159.85 273.98L159.96 273.99L162.75 274.09M164.85 274.17L165.06 274.18L167.75 274.27M169.85 274.35L170.16 274.36L172.74 274.44M174.84 274.50L175.25 274.52L177.74 274.59M179.84 274.65L179.84 274.65L182.74 274.72M184.84 274.77L184.94 274.78L187.74 274.84M189.84 274.89L190.04 274.89L192.74 274.94M194.84 274.98L195.14 274.99L197.74 275.03M199.84 275.06L200.23 275.06L202.74 275.10M204.84 275.12L205.33 275.12L207.74 275.15M209.84 275.16L209.92 275.16L212.74 275.18M214.84 275.19L215.02 275.19L217.74 275.20M219.84 275.20L220.12 275.20L222.74 275.20M224.84 275.19L225.22 275.19L227.74 275.18M229.84 275.17L230.31 275.16L232.74 275.15M234.84 275.13L234.90 275.13L237.74 275.09M239.84 275.07L240.00 275.07L242.74 275.03M244.84 274.99L245.10 274.99L247.73 274.94M249.83 274.90L250.20 274.89L252.73 274.84M254.83 274.79L255.29 274.78L257.73 274.72M259.83 274.67L259.88 274.67L262.73 274.59M264.83 274.53L264.98 274.52L267.73 274.44M269.83 274.37L270.08 274.36L272.73 274.27M274.82 274.20L275.18 274.19L277.72 274.09M279.82 274.01L280.27 273.99L282.72 273.90M284.82 273.81L284.86 273.81L287.71 273.69M289.81 273.60L289.96 273.59L292.71 273.47M294.81 273.37L295.06 273.36L297.70 273.23M299.80 273.13L300.16 273.11L302.70 272.98M304.79 272.88L305.25 272.85L307.69 272.73M309.79 272.61L309.84 272.61L312.68 272.45M314.78 272.34L314.94 272.33L317.68 272.17M319.77 272.05L320.04 272.04L322.67 271.88M324.76 271.76L325.14 271.74L327.66 271.58M329.75 271.45L330.23 271.43L332.65 271.27M334.74 271.14L334.82 271.14L337.64 270.96M339.73 270.82L339.92 270.81L342.63 270.64M344.72 270.50L345.02 270.48L347.62 270.31M349.71 270.17L350.12 270.14L352.61 269.97M354.70 269.83L354.70 269.83L357.59 269.63M359.69 269.49L359.80 269.48L362.58 269.29M364.68 269.15L364.90 269.13L367.57 268.94M369.67 268.80L370.00 268.78L372.56 268.60M374.65 268.45L375.10 268.42L377.55 268.25M379.64 268.10L379.68 268.10L382.53 267.90M384.63 267.75L384.78 267.74L387.52 267.55M389.62 267.40L389.88 267.38L392.51 267.20M394.61 267.05L394.98 267.03L397.50 266.85M399.59 266.71L400.08 266.68L402.49 266.51M404.58 266.37L404.66 266.36L407.47 266.17M409.57 266.03L409.76 266.02L412.46 265.84M414.56 265.70L414.86 265.68L417.45 265.51M419.55 265.37L419.96 265.34L422.44 265.18M424.54 265.05L424.55 265.05L427.43 264.86M429.53 264.73L429.64 264.73L432.42 264.56M434.52 264.43L434.74 264.41L437.41 264.25M439.51 264.13L439.84 264.11L442.40 263.96M444.50 263.84L444.94 263.82L447.40 263.68M449.49 263.56L449.53 263.56L452.39 263.41M454.49 263.30L454.63 263.29L457.38 263.15M459.48 263.04L459.72 263.03L462.38 262.90M464.47 262.80L464.82 262.78L467.37 262.66M469.47 262.57L469.92 262.55L472.37 262.44M474.46 262.35L474.51 262.35L477.36 262.23M479.46 262.14L479.61 262.14L482.36 262.03M484.46 261.95L484.70 261.94L487.35 261.85M489.45 261.78L489.80 261.77L492.35 261.68M494.45 261.62L494.90 261.60L497.35 261.53M499.45 261.47L499.49 261.47L502.35 261.40M504.45 261.34L504.59 261.34L507.35 261.28M509.45 261.23L509.68 261.22L512.34 261.17M514.44 261.13L514.78 261.13L517.34 261.08M519.44 261.05L519.88 261.05L522.34 261.01M524.44 260.99L524.47 260.99L527.34 260.96M529.44 260.94L529.57 260.94L532.34 260.92M534.44 260.91L534.66 260.91L537.34 260.90M539.44 260.90L539.76 260.90L542.34 260.90M544.44 260.91L544.86 260.91L547.34 260.92M549.44 260.93L549.45 260.93L552.34 260.95M554.44 260.97L554.55 260.97L557.34 261.00M559.44 261.02L559.64 261.03L562.34 261.06M564.44 261.10L564.74 261.10L567.34 261.15M569.44 261.19L569.84 261.19L572.34 261.25M574.44 261.29L574.94 261.30L577.34 261.36M579.44 261.41L579.53 261.42L582.34 261.49M584.44 261.55L584.62 261.56L587.34 261.64M589.43 261.71L589.72 261.72L592.33 261.80M594.43 261.88L594.82 261.89L597.33 261.98M599.43 262.06L599.92 262.08L602.33 262.17M604.42 262.26L604.51 262.26L607.32 262.38M609.42 262.47L609.60 262.48L612.32 262.60M614.41 262.70L614.70 262.71L617.31 262.83M619.41 262.94L619.80 262.95L622.31 263.08M624.40 263.19L624.90 263.21L627.30 263.34M629.40 263.45L629.49 263.45L632.29 263.61M634.39 263.72L634.58 263.73L637.28 263.89M639.38 264.01L639.68 264.02L642.28 264.18M644.37 264.30L644.78 264.32L647.27 264.47M649.36 264.60L649.37 264.60L652.26 264.78M654.35 264.91L654.47 264.92L657.25 265.10M659.34 265.23L659.56 265.24L662.24 265.42M664.33 265.56L664.66 265.58L667.23 265.75M669.32 265.89L669.76 265.92L671.80 266.05" stroke="#ff00ff"/>
</g>
<text transform="translate(60.04 320.80) scale(1 1.100)" font-size="19.70" text-anchor="middle">0</text>
<text transform="translate(162.00 320.80) scale(1 1.100)" font-size="19.70" text-anchor="middle">10</text>
<text transform="translate(263.96 320.80) scale(1 1.100)" font-size="19.70" text-anchor="middle">20</text>
<text transform="translate(365.92 320.80) scale(1 1.100)" font-size="19.70" text-anchor="middle">30</text>
<text transform="translate(467.88 320.80) scale(1 1.100)" font-size="19.70" text-anchor="middle">40</text>
<text transform="translate(569.84 320.80) scale(1 1.100)" font-size="19.70" text-anchor="middle">50</text>
<text transform="translate(671.80 320.80) scale(1 1.100)" font-size="19.70" text-anchor="middle">60</text>
<text transform="translate(51.80 277.21) scale(1 1.100)" font-size="19.70" text-anchor="end">0</text>
<text transform="translate(51.80 248.61) scale(1 1.100)" font-size="19.70" text-anchor="end">2</text>
<text transform="translate(51.80 220.01) scale(1 1.100)" font-size="19.70" text-anchor="end">4</text>
<text transform="translate(51.80 191.41) scale(1 1.100)" font-size="19.70" text-anchor="end">6</text>
<text transform="translate(14.30 266.80) rotate(-90)" font-size="20.20"><tspan font-style="italic" font-size="18.00" dy="-0.30">v</tspan><tspan font-size="14.50" dy="10.10"><tspan font-style="italic">i</tspan>2</tspan><tspan dy="-8.90" dx="1.90" letter-spacing="0.35"> (m/s)</tspan></text>
<rect x="210.50" y="172.40" width="461.30" height="30.40" fill="#fff" stroke="#262626" stroke-width="1.3"/>
<path d="M215.30 187.90h50" stroke="#000000" stroke-width="2.40" stroke-dasharray="10 10" fill="none"/>
<text transform="translate(268.80 196.05) scale(1 1.100)" font-size="19.70"><tspan font-style="italic">i</tspan>=0</text>
<path d="M308.00 187.90h50" stroke="#0000ff" stroke-width="2.40" fill="none"/>
<text transform="translate(361.50 196.05) scale(1 1.100)" font-size="19.70"><tspan font-style="italic">i</tspan>=1</text>
<path d="M400.40 187.90h50" stroke="#ff0000" stroke-width="2.40" stroke-dasharray="9 3 4.7 3.3" fill="none"/>
<text transform="translate(453.90 196.05) scale(1 1.100)" font-size="19.70"><tspan font-style="italic">i</tspan>=2</text>
<path d="M492.40 187.90h50" stroke="#00ff00" stroke-width="2.40" stroke-dasharray="10 10" fill="none"/>
<text transform="translate(545.90 196.05) scale(1 1.100)" font-size="19.70"><tspan font-style="italic">i</tspan>=3</text>
<path d="M585.00 187.90h50" stroke="#ff00ff" stroke-width="2.40" stroke-dasharray="2.5 2.5" fill="none"/>
<text transform="translate(638.50 196.05) scale(1 1.100)" font-size="19.70"><tspan font-style="italic">i</tspan>=4</text>
<path d="M209.85 171.70H672.65" stroke="#262626" stroke-width="1.7"/>
<rect x="58.80" y="338.90" width="611.75" height="119.10" fill="none" stroke="#262626" stroke-width="1.7"/>
<path d="M58.73 338.90v5.3M58.73 458.00v-5.3M160.70 338.90v5.3M160.70 458.00v-5.3M262.67 338.90v5.3M262.67 458.00v-5.3M364.64 338.90v5.3M364.64 458.00v-5.3M466.61 338.90v5.3M466.61 458.00v-5.3M568.58 338.90v5.3M568.58 458.00v-5.3M670.55 338.90v5.3M670.55 458.00v-5.3M58.80 458.00h5.3M670.55 458.00h-5.3M58.80 409.95h5.3M670.55 409.95h-5.3M58.80 361.90h5.3M670.55 361.90h-5.3" stroke="#262626" stroke-width="1.3" fill="none"/>
<clipPath id="c2"><rect x="55.80" y="336.90" width="616.75" height="123.10"/></clipPath>
<g clip-path="url(#c2)" fill="none" stroke-width="2.45" stroke-linejoin="round">
<path d="M58.73 458.00L61.28 458.00L63.83 458.00L66.38 458.00L68.93 458.00L71.48 458.00L74.03 458.00L76.57 458.00L79.12 458.00L81.67 458.00L84.22 458.00L86.77 458.00L89.32 458.00" stroke="#000000" stroke-dasharray="10 10"/>
<path d="M58.73 458.00L58.99 407.56L59.04 400.34L59.24 372.35L59.50 349.06L59.55 347.48L59.76 342.92L60.02 339.64L60.16 339.12L60.27 339.29L60.53 340.71L60.79 343.11L61.04 345.94L61.28 348.45L61.30 348.66L61.56 351.34L61.81 354.26L62.07 357.38L62.33 360.68L62.59 364.12L62.84 367.68L63.01 370.07L63.10 371.34L63.36 375.34L63.61 379.63L63.87 384.04L64.13 388.44L64.39 392.64L64.54 395.05L64.64 396.55L64.90 400.44L65.16 404.31L65.41 408.09L65.67 411.70L65.93 415.05L66.18 418.06L66.38 420.04L66.44 420.65L66.70 422.96L66.96 425.05L67.21 426.95L67.47 428.69L67.70 430.13L67.73 430.27L67.98 431.77L68.24 433.20L68.50 434.56L68.76 435.85L69.01 437.07L69.27 438.19L69.53 439.23L69.78 440.16L69.95 440.70L70.04 441.00L70.30 441.79L70.56 442.55L70.81 443.27L71.07 443.97L71.33 444.64L71.58 445.27L71.84 445.88L72.10 446.46L72.35 447.02L72.61 447.55L72.87 448.05L73.13 448.53L73.38 448.98L73.64 449.42L73.90 449.83L74.03 450.02L74.15 450.22L74.41 450.59L74.67 450.95L74.93 451.30L75.18 451.64L75.44 451.96L75.70 452.27L75.95 452.57L76.21 452.86L76.47 453.13L76.72 453.40L76.98 453.65L77.24 453.89L77.50 454.13L77.75 454.35L78.01 454.56L78.10 454.64L78.27 454.77L78.52 454.97L78.78 455.16L79.04 455.35L79.30 455.53L79.55 455.71L79.81 455.87L80.07 456.03L80.32 456.17L80.58 456.30L80.84 456.43L81.09 456.53L81.16 456.56L81.35 456.63L81.61 456.72L81.87 456.81L82.12 456.89L82.38 456.97L82.64 457.05L82.89 457.12L83.15 457.19L83.41 457.26L83.67 457.32L83.92 457.38L84.18 457.43L84.44 457.48L84.69 457.53L84.95 457.57L85.21 457.61L85.24 457.62L85.46 457.65L85.72 457.68L85.98 457.72L86.24 457.75L86.49 457.78L86.75 457.81L87.01 457.84L87.26 457.87L87.52 457.90L87.78 457.92L88.04 457.94L88.29 457.96L88.55 457.97L88.81 457.99L89.06 458.00L89.32 458.00" stroke="#0000ff"/>
<path d="M58.73 458.00L58.99 396.48L59.04 390.73L59.24 374.94L59.50 361.70L59.75 357.10L59.76 357.10L60.02 357.21L60.27 357.53L60.53 358.01L60.79 358.62L61.04 359.30L61.28 359.98L61.30 360.04L61.56 360.99L61.81 362.26L62.07 363.83L62.33 365.65L62.59 367.70L62.84 369.94L63.01 371.51L63.10 372.40L63.36 375.70L63.61 379.75L63.87 384.22L64.13 388.79L64.39 393.14L64.54 395.54L64.64 396.99L64.90 400.78L65.16 404.56L65.41 408.26L65.67 411.80L65.93 415.10L66.18 418.07L66.38 420.04L66.44 420.65L66.70 422.94L66.96 425.04L67.21 426.95L67.47 428.69L67.70 430.13L67.73 430.27L67.98 431.77L68.24 433.20L68.50 434.56L68.76 435.85L69.01 437.07L69.27 438.19L69.53 439.23L69.78 440.16L69.95 440.70L70.04 441.00L70.30 441.79L70.56 442.55L70.81 443.27L71.07 443.97L71.33 444.64L71.58 445.27L71.84 445.88L72.10 446.46L72.35 447.02L72.61 447.55L72.87 448.05L73.13 448.53L73.38 448.98L73.64 449.42L73.90 449.83L74.03 450.02L74.15 450.22L74.41 450.59L74.67 450.95L74.93 451.30L75.18 451.64L75.44 451.96L75.70 452.27L75.95 452.57L76.21 452.86L76.47 453.13L76.72 453.40L76.98 453.65L77.24 453.89L77.50 454.13L77.75 454.35L78.01 454.56L78.10 454.64L78.27 454.77L78.52 454.97L78.78 455.16L79.04 455.35L79.30 455.53L79.55 455.71L79.81 455.87L80.07 456.03L80.32 456.17L80.58 456.30L80.84 456.43L81.09 456.53L81.16 456.56L81.35 456.63L81.61 456.72L81.87 456.81L82.12 456.89L82.38 456.97L82.64 457.05L82.89 457.12L83.15 457.19L83.41 457.26L83.67 457.32L83.92 457.38L84.18 457.43L84.44 457.48L84.69 457.53L84.95 457.57L85.21 457.61L85.24 457.62L85.46 457.65L85.72 457.68L85.98 457.72L86.24 457.75L86.49 457.78L86.75 457.81L87.01 457.84L87.26 457.87L87.52 457.90L87.78 457.92L88.04 457.94L88.29 457.96L88.55 457.97L88.81 457.99L89.06 458.00L89.32 458.00" stroke="#ff0000" stroke-dasharray="9 3 4.7 3.3" stroke-dashoffset="7.90"/>
<path d="M58.73 458.00L58.99 396.61L59.04 390.73L59.24 374.15L59.50 360.10L59.75 355.17L59.76 355.17L60.02 355.29L60.27 355.61L60.53 356.08L60.79 356.68L61.04 357.37L61.28 358.06L61.30 358.12L61.56 359.12L61.81 360.51L62.07 362.22L62.33 364.22L62.59 366.45L62.84 368.87L63.01 370.55L63.10 371.49L63.36 374.90L63.61 379.04L63.87 383.58L64.13 388.21L64.39 392.62L64.54 395.05L64.64 396.54L64.90 400.41L65.16 404.28L65.41 408.06L65.67 411.68L65.93 415.04L66.18 418.05L66.38 420.04L66.44 420.65L66.70 422.96L66.96 425.05L67.21 426.95L67.47 428.69L67.70 430.13L67.73 430.27L67.98 431.77L68.24 433.20L68.50 434.56L68.76 435.85L69.01 437.07L69.27 438.19L69.53 439.23L69.78 440.16L69.95 440.70L70.04 441.00L70.30 441.79L70.56 442.55L70.81 443.27L71.07 443.97L71.33 444.64L71.58 445.27L71.84 445.88L72.10 446.46L72.35 447.02L72.61 447.55L72.87 448.05L73.13 448.53L73.38 448.98L73.64 449.42L73.90 449.83L74.03 450.02L74.15 450.22L74.41 450.59L74.67 450.95L74.93 451.30L75.18 451.64L75.44 451.96L75.70 452.27L75.95 452.57L76.21 452.86L76.47 453.13L76.72 453.40L76.98 453.65L77.24 453.89L77.50 454.13L77.75 454.35L78.01 454.56L78.10 454.64L78.27 454.77L78.52 454.97L78.78 455.16L79.04 455.35L79.30 455.53L79.55 455.71L79.81 455.87L80.07 456.03L80.32 456.17L80.58 456.30L80.84 456.43L81.09 456.53L81.16 456.56L81.35 456.63L81.61 456.72L81.87 456.81L82.12 456.89L82.38 456.97L82.64 457.05L82.89 457.12L83.15 457.19L83.41 457.26L83.67 457.32L83.92 457.38L84.18 457.43L84.44 457.48L84.69 457.53L84.95 457.57L85.21 457.61L85.24 457.62L85.46 457.65L85.72 457.68L85.98 457.72L86.24 457.75L86.49 457.78L86.75 457.81L87.01 457.84L87.26 457.87L87.52 457.90L87.78 457.92L88.04 457.94L88.29 457.96L88.55 457.97L88.81 457.99L89.06 458.00L89.32 458.00" stroke="#00ff00" stroke-dasharray="10 10" stroke-dashoffset="13.96"/>
<path d="M58.73 458.00L58.99 397.12L59.04 390.73L59.24 371.10L59.50 353.76L59.75 347.48L59.76 347.49L60.02 347.74L60.27 348.41L60.53 349.40L60.79 350.61L61.04 351.97L61.28 353.25L61.30 353.37L61.56 355.04L61.81 357.15L62.07 359.61L62.33 362.36L62.59 365.33L62.84 368.45L63.01 370.55L63.10 371.68L63.36 375.47L63.61 379.74L63.87 384.27L64.13 388.81L64.39 393.12L64.54 395.54L64.64 397.02L64.90 400.84L65.16 404.63L65.41 408.33L65.67 411.85L65.93 415.12L66.18 418.08L66.38 420.04L66.44 420.65L66.70 422.94L66.96 425.04L67.21 426.95L67.47 428.69L67.70 430.13L67.73 430.27L67.98 431.77L68.24 433.20L68.50 434.56L68.76 435.85L69.01 437.07L69.27 438.19L69.53 439.23L69.78 440.16L69.95 440.70L70.04 441.00L70.30 441.79L70.56 442.55L70.81 443.27L71.07 443.97L71.33 444.64L71.58 445.27L71.84 445.88L72.10 446.46L72.35 447.02L72.61 447.55L72.87 448.05L73.13 448.53L73.38 448.98L73.64 449.42L73.90 449.83L74.03 450.02L74.15 450.22L74.41 450.59L74.67 450.95L74.93 451.30L75.18 451.64L75.44 451.96L75.70 452.27L75.95 452.57L76.21 452.86L76.47 453.13L76.72 453.40L76.98 453.65L77.24 453.89L77.50 454.13L77.75 454.35L78.01 454.56L78.10 454.64L78.27 454.77L78.52 454.97L78.78 455.16L79.04 455.35L79.30 455.53L79.55 455.71L79.81 455.87L80.07 456.03L80.32 456.17L80.58 456.30L80.84 456.43L81.09 456.53L81.16 456.56L81.35 456.63L81.61 456.72L81.87 456.81L82.12 456.89L82.38 456.97L82.64 457.05L82.89 457.12L83.15 457.19L83.41 457.26L83.67 457.32L83.92 457.38L84.18 457.43L84.44 457.48L84.69 457.53L84.95 457.57L85.21 457.61L85.24 457.62L85.46 457.65L85.72 457.68L85.98 457.72L86.24 457.75L86.49 457.78L86.75 457.81L87.01 457.84L87.26 457.87L87.52 457.90L87.78 457.92L88.04 457.94L88.29 457.96L88.55 457.97L88.81 457.99L89.06 458.00L89.32 458.00" stroke="#ff00ff" stroke-dasharray="2.5 2.5" stroke-dashoffset="0.22"/>
<path d="" stroke="#0000ff"/>
<path d="M89.32 458.00L89.83 458.00L91.40 458.00M93.50 458.00L93.91 458.00L96.40 458.00M108.50 458.00L108.70 458.00L111.40 458.00M113.50 458.00L113.79 458.00L116.40 458.00M128.50 458.00L128.58 458.00L131.40 458.00M133.50 458.00L133.68 458.00L136.40 458.00M148.50 458.00L148.97 458.00L151.40 458.00M153.50 458.00L153.56 458.00L156.40 458.00M168.50 458.00L168.86 458.00L171.40 458.00M173.50 458.00L173.96 458.00L176.40 458.00M188.50 458.00L188.74 458.00L191.40 458.00M193.50 458.00L193.84 458.00L196.40 458.00M208.50 458.00L208.63 458.00L211.40 458.00M213.50 458.00L213.72 458.00L216.40 458.00M228.50 458.00L228.51 458.00L231.40 458.00M233.50 458.00L233.61 458.00L236.40 458.00M248.50 458.00L248.90 458.00L251.40 458.00M253.50 458.00L254.00 458.00L256.40 458.00M268.50 458.00L268.79 458.00L271.40 458.00M273.50 458.00L273.89 458.00L276.40 458.00M288.50 458.00L288.67 458.00L291.40 458.00M293.50 458.00L293.77 458.00L296.40 458.00M308.50 458.00L308.56 458.00L311.40 458.00M313.50 458.00L313.65 458.00L316.40 458.00M328.50 458.00L328.95 458.00L331.40 458.00M333.50 458.00L333.54 458.00L336.40 458.00M348.50 458.00L348.83 458.00L351.40 458.00M353.50 458.00L353.93 458.00L356.40 458.00M368.50 458.00L368.72 458.00L371.40 458.00M373.50 458.00L373.82 458.00L376.40 458.00M388.50 458.00L388.60 458.00L391.40 458.00M393.50 458.00L393.70 458.00L396.40 458.00M408.50 458.00L409.00 458.00L411.40 458.00M413.50 458.00L413.59 458.00L416.40 458.00M428.50 458.00L428.88 458.00L431.40 458.00M433.50 458.00L433.98 458.00L436.40 458.00M448.50 458.00L448.77 458.00L451.40 458.00M453.50 458.00L453.86 458.00L456.40 458.00M468.50 458.00L468.65 458.00L471.40 458.00M473.50 458.00L473.75 458.00L476.40 458.00M488.50 458.00L488.53 458.00L491.40 458.00M493.50 458.00L493.63 458.00L496.40 458.00M508.50 458.00L508.93 458.00L511.40 458.00M513.50 458.00L513.52 458.00L516.40 458.00M528.50 458.00L528.81 458.00L531.40 458.00M533.50 458.00L533.91 458.00L536.40 458.00M548.50 458.00L548.70 458.00L551.40 458.00M553.50 458.00L553.79 458.00L556.40 458.00M568.50 458.00L568.58 458.00L571.40 458.00M573.50 458.00L573.68 458.00L576.40 458.00M588.50 458.00L588.97 458.00L591.40 458.00M593.50 458.00L593.56 458.00L596.40 458.00M608.50 458.00L608.86 458.00L611.40 458.00M613.50 458.00L613.96 458.00L616.40 458.00M628.50 458.00L628.74 458.00L631.40 458.00M633.50 458.00L633.84 458.00L636.40 458.00M648.50 458.00L648.63 458.00L651.40 458.00M653.50 458.00L653.72 458.00L656.40 458.00M668.50 458.00L668.51 458.00L670.55 458.00" stroke="#ff0000"/>
<path d="M98.50 458.00L99.01 458.00L101.40 458.00M103.50 458.00L103.60 458.00L106.40 458.00M118.50 458.00L118.89 458.00L121.40 458.00M123.50 458.00L123.99 458.00L126.40 458.00M138.50 458.00L138.78 458.00L141.40 458.00M143.50 458.00L143.87 458.00L146.40 458.00M158.50 458.00L158.66 458.00L161.40 458.00M163.50 458.00L163.76 458.00L166.40 458.00M178.50 458.00L178.54 458.00L181.40 458.00M183.50 458.00L183.64 458.00L186.40 458.00M198.50 458.00L198.94 458.00L201.40 458.00M203.50 458.00L203.53 458.00L206.40 458.00M218.50 458.00L218.82 458.00L221.40 458.00M223.50 458.00L223.92 458.00L226.40 458.00M238.50 458.00L238.71 458.00L241.40 458.00M243.50 458.00L243.81 458.00L246.40 458.00M258.50 458.00L258.59 458.00L261.40 458.00M263.50 458.00L263.69 458.00L266.40 458.00M278.50 458.00L278.99 458.00L281.40 458.00M283.50 458.00L283.57 458.00L286.40 458.00M298.50 458.00L298.87 458.00L301.40 458.00M303.50 458.00L303.97 458.00L306.40 458.00M318.50 458.00L318.75 458.00L321.40 458.00M323.50 458.00L323.85 458.00L326.40 458.00M338.50 458.00L338.64 458.00L341.40 458.00M343.50 458.00L343.74 458.00L346.40 458.00M358.50 458.00L358.52 458.00L361.40 458.00M363.50 458.00L363.62 458.00L366.40 458.00M378.50 458.00L378.92 458.00L381.40 458.00M383.50 458.00L383.50 458.00L386.40 458.00M398.50 458.00L398.80 458.00L401.40 458.00M403.50 458.00L403.90 458.00L406.40 458.00M418.50 458.00L418.68 458.00L421.40 458.00M423.50 458.00L423.78 458.00L426.40 458.00M438.50 458.00L438.57 458.00L441.40 458.00M443.50 458.00L443.67 458.00L446.40 458.00M458.50 458.00L458.96 458.00L461.40 458.00M463.50 458.00L463.55 458.00L466.40 458.00M478.50 458.00L478.85 458.00L481.40 458.00M483.50 458.00L483.94 458.00L486.40 458.00M498.50 458.00L498.73 458.00L501.40 458.00M503.50 458.00L503.83 458.00L506.40 458.00M518.50 458.00L518.61 458.00L521.40 458.00M523.50 458.00L523.71 458.00L526.40 458.00M538.50 458.00L539.01 458.00L541.40 458.00M543.50 458.00L543.60 458.00L546.40 458.00M558.50 458.00L558.89 458.00L561.40 458.00M563.50 458.00L563.99 458.00L566.40 458.00M578.50 458.00L578.78 458.00L581.40 458.00M583.50 458.00L583.88 458.00L586.40 458.00M598.50 458.00L598.66 458.00L601.40 458.00M603.50 458.00L603.76 458.00L606.40 458.00M618.50 458.00L618.55 458.00L621.40 458.00M623.50 458.00L623.64 458.00L626.40 458.00M638.50 458.00L638.94 458.00L641.40 458.00M643.50 458.00L643.53 458.00L646.40 458.00M658.50 458.00L658.82 458.00L661.40 458.00M663.50 458.00L663.92 458.00L666.40 458.00" stroke="#00ff00"/>
<path d="M91.00 458.00L91.36 458.00L93.90 458.00M96.00 458.00L96.46 458.00L98.90 458.00M101.00 458.00L101.05 458.00L103.90 458.00M106.00 458.00L106.15 458.00L108.90 458.00M111.00 458.00L111.24 458.00L113.90 458.00M116.00 458.00L116.34 458.00L118.90 458.00M121.00 458.00L121.44 458.00L123.90 458.00M126.00 458.00L126.03 458.00L128.90 458.00M131.00 458.00L131.13 458.00L133.90 458.00M136.00 458.00L136.23 458.00L138.90 458.00M141.00 458.00L141.33 458.00L143.90 458.00M146.00 458.00L146.42 458.00L148.90 458.00M151.00 458.00L151.01 458.00L153.90 458.00M156.00 458.00L156.11 458.00L158.90 458.00M161.00 458.00L161.21 458.00L163.90 458.00M166.00 458.00L166.31 458.00L168.90 458.00M171.00 458.00L171.41 458.00L173.90 458.00M176.00 458.00L176.51 458.00L178.90 458.00M181.00 458.00L181.09 458.00L183.90 458.00M186.00 458.00L186.19 458.00L188.90 458.00M191.00 458.00L191.29 458.00L193.90 458.00M196.00 458.00L196.39 458.00L198.90 458.00M201.00 458.00L201.49 458.00L203.90 458.00M206.00 458.00L206.08 458.00L208.90 458.00M211.00 458.00L211.18 458.00L213.90 458.00M216.00 458.00L216.27 458.00L218.90 458.00M221.00 458.00L221.37 458.00L223.90 458.00M226.00 458.00L226.47 458.00L228.90 458.00M231.00 458.00L231.06 458.00L233.90 458.00M236.00 458.00L236.16 458.00L238.90 458.00M241.00 458.00L241.26 458.00L243.90 458.00M246.00 458.00L246.35 458.00L248.90 458.00M251.00 458.00L251.45 458.00L253.90 458.00M256.00 458.00L256.04 458.00L258.90 458.00M261.00 458.00L261.14 458.00L263.90 458.00M266.00 458.00L266.24 458.00L268.90 458.00M271.00 458.00L271.34 458.00L273.90 458.00M276.00 458.00L276.44 458.00L278.90 458.00M281.00 458.00L281.02 458.00L283.90 458.00M286.00 458.00L286.12 458.00L288.90 458.00M291.00 458.00L291.22 458.00L293.90 458.00M296.00 458.00L296.32 458.00L298.90 458.00M301.00 458.00L301.42 458.00L303.90 458.00M306.00 458.00L306.01 458.00L308.90 458.00M311.00 458.00L311.11 458.00L313.90 458.00M316.00 458.00L316.20 458.00L318.90 458.00M321.00 458.00L321.30 458.00L323.90 458.00M326.00 458.00L326.40 458.00L328.90 458.00M331.00 458.00L331.50 458.00L333.90 458.00M336.00 458.00L336.09 458.00L338.90 458.00M341.00 458.00L341.19 458.00L343.90 458.00M346.00 458.00L346.29 458.00L348.90 458.00M351.00 458.00L351.38 458.00L353.90 458.00M356.00 458.00L356.48 458.00L358.90 458.00M361.00 458.00L361.07 458.00L363.90 458.00M366.00 458.00L366.17 458.00L368.90 458.00M371.00 458.00L371.27 458.00L373.90 458.00M376.00 458.00L376.37 458.00L378.90 458.00M381.00 458.00L381.47 458.00L383.90 458.00M386.00 458.00L386.05 458.00L388.90 458.00M391.00 458.00L391.15 458.00L393.90 458.00M396.00 458.00L396.25 458.00L398.90 458.00M401.00 458.00L401.35 458.00L403.90 458.00M406.00 458.00L406.45 458.00L408.90 458.00M411.00 458.00L411.04 458.00L413.90 458.00M416.00 458.00L416.13 458.00L418.90 458.00M421.00 458.00L421.23 458.00L423.90 458.00M426.00 458.00L426.33 458.00L428.90 458.00M431.00 458.00L431.43 458.00L433.90 458.00M436.00 458.00L436.02 458.00L438.90 458.00M441.00 458.00L441.12 458.00L443.90 458.00M446.00 458.00L446.22 458.00L448.90 458.00M451.00 458.00L451.31 458.00L453.90 458.00M456.00 458.00L456.41 458.00L458.90 458.00M461.00 458.00L461.00 458.00L463.90 458.00M466.00 458.00L466.10 458.00L468.90 458.00M471.00 458.00L471.20 458.00L473.90 458.00M476.00 458.00L476.30 458.00L478.90 458.00M481.00 458.00L481.40 458.00L483.90 458.00M486.00 458.00L486.49 458.00L488.90 458.00M491.00 458.00L491.08 458.00L493.90 458.00M496.00 458.00L496.18 458.00L498.90 458.00M501.00 458.00L501.28 458.00L503.90 458.00M506.00 458.00L506.38 458.00L508.90 458.00M511.00 458.00L511.48 458.00L513.90 458.00M516.00 458.00L516.07 458.00L518.90 458.00M521.00 458.00L521.16 458.00L523.90 458.00M526.00 458.00L526.26 458.00L528.90 458.00M531.00 458.00L531.36 458.00L533.90 458.00M536.00 458.00L536.46 458.00L538.90 458.00M541.00 458.00L541.05 458.00L543.90 458.00M546.00 458.00L546.15 458.00L548.90 458.00M551.00 458.00L551.25 458.00L553.90 458.00M556.00 458.00L556.34 458.00L558.90 458.00M561.00 458.00L561.44 458.00L563.90 458.00M566.00 458.00L566.03 458.00L568.90 458.00M571.00 458.00L571.13 458.00L573.90 458.00M576.00 458.00L576.23 458.00L578.90 458.00M581.00 458.00L581.33 458.00L583.90 458.00M586.00 458.00L586.42 458.00L588.90 458.00M591.00 458.00L591.01 458.00L593.90 458.00M596.00 458.00L596.11 458.00L598.90 458.00M601.00 458.00L601.21 458.00L603.90 458.00M606.00 458.00L606.31 458.00L608.90 458.00M611.00 458.00L611.41 458.00L613.90 458.00M616.00 458.00L616.51 458.00L618.90 458.00M621.00 458.00L621.09 458.00L623.90 458.00M626.00 458.00L626.19 458.00L628.90 458.00M631.00 458.00L631.29 458.00L633.90 458.00M636.00 458.00L636.39 458.00L638.90 458.00M641.00 458.00L641.49 458.00L643.90 458.00M646.00 458.00L646.08 458.00L648.90 458.00M651.00 458.00L651.18 458.00L653.90 458.00M656.00 458.00L656.27 458.00L658.90 458.00M661.00 458.00L661.37 458.00L663.90 458.00M666.00 458.00L666.47 458.00L668.90 458.00" stroke="#ff00ff"/>
</g>
<text transform="translate(58.73 487.65) scale(1 1.100)" font-size="19.70" text-anchor="middle">0</text>
<text transform="translate(160.70 487.65) scale(1 1.100)" font-size="19.70" text-anchor="middle">10</text>
<text transform="translate(262.67 487.65) scale(1 1.100)" font-size="19.70" text-anchor="middle">20</text>
<text transform="translate(364.64 487.65) scale(1 1.100)" font-size="19.70" text-anchor="middle">30</text>
<text transform="translate(466.61 487.65) scale(1 1.100)" font-size="19.70" text-anchor="middle">40</text>
<text transform="translate(568.58 487.65) scale(1 1.100)" font-size="19.70" text-anchor="middle">50</text>
<text transform="translate(670.55 487.65) scale(1 1.100)" font-size="19.70" text-anchor="middle">60</text>
<text transform="translate(51.00 466.25) scale(1 1.100)" font-size="19.70" text-anchor="end">0</text>
<text transform="translate(51.00 418.20) scale(1 1.100)" font-size="19.70" text-anchor="end">5</text>
<text transform="translate(51.00 370.15) scale(1 1.100)" font-size="19.70" text-anchor="end">10</text>
<text transform="translate(17.30 437.10) rotate(-90)" font-size="21.80"><tspan font-style="italic" font-size="20.60" dy="0.00">v</tspan><tspan font-size="16.00" dy="10.00"><tspan font-style="italic">i</tspan>3</tspan><tspan dy="-10.00" dx="1.50" letter-spacing="0.10"> (m/s)</tspan></text>
<rect x="208.30" y="339.60" width="462.25" height="30.40" fill="#fff" stroke="#262626" stroke-width="1.3"/>
<path d="M212.80 355.40h50" stroke="#000000" stroke-width="2.40" stroke-dasharray="10 10" fill="none"/>
<text transform="translate(266.30 363.55) scale(1 1.100)" font-size="19.70"><tspan font-style="italic">i</tspan>=0</text>
<path d="M305.60 355.40h50" stroke="#0000ff" stroke-width="2.40" fill="none"/>
<text transform="translate(359.10 363.55) scale(1 1.100)" font-size="19.70"><tspan font-style="italic">i</tspan>=1</text>
<path d="M398.00 355.40h50" stroke="#ff0000" stroke-width="2.40" stroke-dasharray="9 3 4.7 3.3" fill="none"/>
<text transform="translate(451.50 363.55) scale(1 1.100)" font-size="19.70"><tspan font-style="italic">i</tspan>=2</text>
<path d="M490.00 355.40h50" stroke="#00ff00" stroke-width="2.40" stroke-dasharray="10 10" fill="none"/>
<text transform="translate(543.50 363.55) scale(1 1.100)" font-size="19.70"><tspan font-style="italic">i</tspan>=3</text>
<path d="M582.60 355.40h50" stroke="#ff00ff" stroke-width="2.40" stroke-dasharray="2.5 2.5" fill="none"/>
<text transform="translate(636.10 363.55) scale(1 1.100)" font-size="19.70"><tspan font-style="italic">i</tspan>=4</text>
<path d="M207.65 338.90H671.40" stroke="#262626" stroke-width="1.7"/>
<text transform="translate(364.64 508.20) scale(1 0.955)" font-size="22.80" text-anchor="middle"><tspan font-style="italic">t</tspan> (s)</text>
</svg></body></html>
